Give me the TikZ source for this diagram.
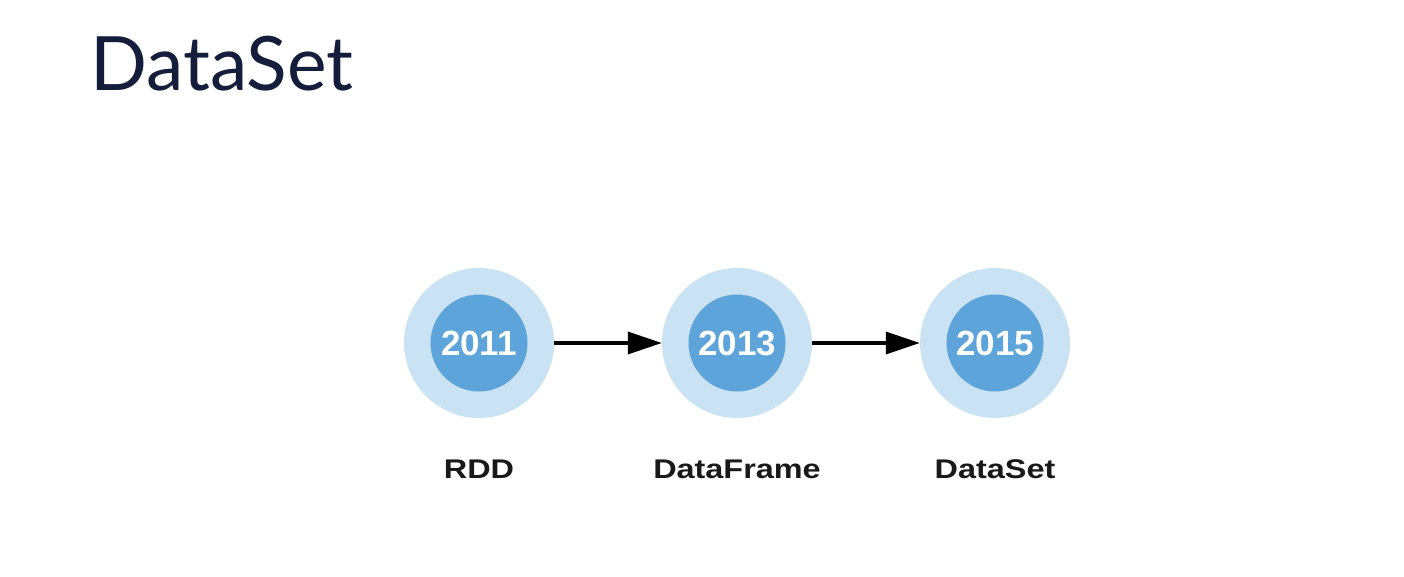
\documentclass[tikz,border=0pt]{standalone}
\usepackage{fontspec}
\usepackage{xcolor}
\usepackage{tikz}
\usetikzlibrary{arrows.meta}
\usetikzlibrary{positioning}
\newfontfamily\titlefont{Lato}
\newfontfamily\yearfont{Liberation Sans}
\newfontfamily\namefont[FakeStretch=1.2]{Liberation Sans}
\definecolor{ringblue}{RGB}{201,226,244}
\definecolor{coreblue}{RGB}{92,164,217}
\definecolor{titlenavy}{RGB}{20,30,60}

\begin{document}
\begin{tikzpicture}[x=1pt,y=1pt,node distance=258pt,
  ring node/.style={circle,fill=ringblue,minimum size=150pt,inner sep=0pt},
  core node/.style={circle,fill=coreblue,minimum size=97pt,inner sep=0pt,
    text=white,font=\yearfont\bfseries\fontsize{35}{40}\selectfont},
  name node/.style={inner sep=0pt,text height=19.3pt,text depth=0pt,
    font=\namefont\bfseries\fontsize{27}{32}\selectfont,text=black!90},
  year edge/.style={draw,line width=3.5pt,-{Triangle[length=34pt,width=22pt]}}]

  \useasboundingbox (0,0) rectangle (1404,576);

  \node[anchor=base west,inner sep=0pt,text=titlenavy,
    font=\titlefont\fontsize{75}{90}\selectfont] (title) at (90,485) {DataSet};

  \node[ring node] (1) at (479,233) {};
  \node[ring node] (2) [right of=1] {};
  \node[ring node] (3) [right of=2] {};

  \node[core node] (c1) at (1) {2011};
  \node[core node] (c2) at (2) {2013};
  \node[core node] (c3) at (3) {2015};

  \node[name node] (n1) [below=41pt of 1] {RDD};
  \node[name node] (n2) [below=41pt of 2] {DataFrame};
  \node[name node] (n3) [below=41pt of 3] {DataSet};

  \path[every edge/.style={year edge}]
    (1) edge (2)
    (2) edge (3);
\end{tikzpicture}
\end{document}
